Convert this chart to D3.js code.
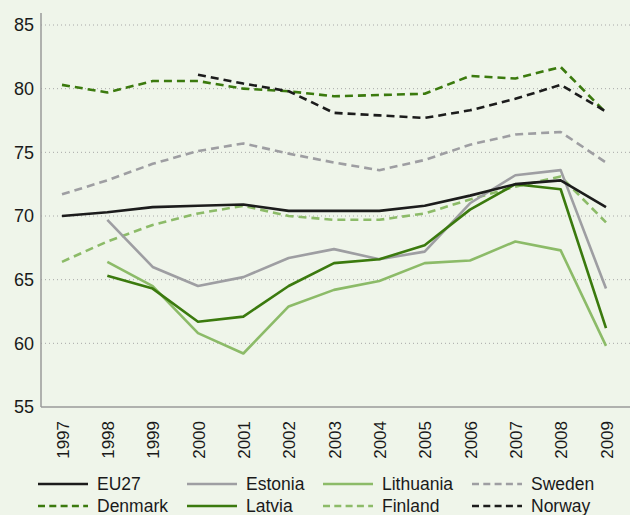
<!DOCTYPE html>
<html>
<head>
<meta charset="utf-8">
<script src="https://cdn.jsdelivr.net/npm/d3@7"></script>
<style>
  html, body { margin: 0; padding: 0; background: #eff5ea; }
  svg { display: block; }
  text { font-family: "Liberation Sans", Arial, sans-serif; fill: #1a1a1a; }
</style>
</head>
<body>
<svg id="chart" width="630" height="515"></svg>
<script>
// Years on the x axis
const years = [1997, 1998, 1999, 2000, 2001, 2002, 2003, 2004, 2005, 2006, 2007, 2008, 2009];
const yTicks = [55, 60, 65, 70, 75, 80, 85];

// Employment rates (%) per country, null where no data
const eu27      = [70.0, 70.3, 70.7, 70.8, 70.9, 70.4, 70.4, 70.4, 70.8, 71.6, 72.5, 72.8, 70.7];
const estonia   = [null, 69.7, 66.0, 64.5, 65.2, 66.7, 67.4, 66.6, 67.2, 71.0, 73.2, 73.6, 64.3];
const lithuania = [null, 66.4, 64.5, 60.8, 59.2, 62.9, 64.2, 64.9, 66.3, 66.5, 68.0, 67.3, 59.8];
const sweden    = [71.7, 72.8, 74.1, 75.1, 75.7, 74.9, 74.2, 73.6, 74.4, 75.6, 76.4, 76.6, 74.2];
const denmark   = [80.3, 79.7, 80.6, 80.6, 80.0, 79.8, 79.4, 79.5, 79.6, 81.0, 80.8, 81.7, 78.1];
const latvia    = [null, 65.3, 64.3, 61.7, 62.1, 64.5, 66.3, 66.6, 67.7, 70.5, 72.5, 72.1, 61.2];
const finland   = [66.4, 68.0, 69.3, 70.2, 70.8, 70.0, 69.7, 69.7, 70.2, 71.3, 72.3, 73.1, 69.5];
const norway    = [null, null, null, 81.1, 80.4, 79.8, 78.1, 77.9, 77.7, 78.3, 79.2, 80.3, 78.2];

const seriesNames = ["EU27", "Estonia", "Lithuania", "Sweden", "Denmark", "Latvia", "Finland", "Norway"];
const seriesValues = [eu27, estonia, lithuania, sweden, denmark, latvia, finland, norway];

const black = "#1c1c1c", gray = "#9e9ea2", darkGreen = "#3b7a0e", lightGreen = "#8cbb68";
const styles = {
  EU27:      { color: black,      dash: null },
  Estonia:   { color: gray,       dash: null },
  Lithuania: { color: lightGreen, dash: null },
  Sweden:    { color: gray,       dash: "8,5" },
  Denmark:   { color: darkGreen,  dash: "8,5" },
  Latvia:    { color: darkGreen,  dash: null },
  Finland:   { color: lightGreen, dash: "8,5" },
  Norway:    { color: black,      dash: "8,5" }
};

const svg = d3.select("#chart");
const plotLeft = 41, plotRight = 630, plotTop = 25, plotBottom = 407;

const x = d3.scalePoint().domain(years).range([62, 606]);
const y = d3.scaleLinear().domain([55, 85]).range([plotBottom, plotTop]);

// Dotted horizontal gridlines
svg.append("g").selectAll("line")
  .data(yTicks.filter(t => t > 55))
  .join("line")
  .attr("x1", plotLeft).attr("x2", plotRight)
  .attr("y1", d => y(d)).attr("y2", d => y(d))
  .attr("stroke", "#a8a8a8").attr("stroke-width", 1)
  .attr("stroke-dasharray", "1,3");

// Y axis
const yAxis = svg.append("g").attr("transform", `translate(${plotLeft},0)`)
  .call(d3.axisLeft(y).tickValues(yTicks).tickSize(0).tickPadding(7));
yAxis.select(".domain").remove();
yAxis.selectAll("text").attr("font-size", 18).attr("fill", "#1a1a1a")
  .style("font-family", "'Liberation Sans', Arial, sans-serif");
svg.append("line").attr("x1", plotLeft).attr("x2", plotLeft).attr("y1", 13).attr("y2", plotBottom)
  .attr("stroke", "#9a9a9a").attr("stroke-width", 1.5);

// X axis
const xAxis = svg.append("g").attr("transform", `translate(0,${plotBottom})`)
  .call(d3.axisBottom(x).tickSize(0).tickPadding(0));
xAxis.select(".domain").remove();
xAxis.selectAll("text")
  .attr("font-size", 17).attr("fill", "#1a1a1a")
  .style("font-family", "'Liberation Sans', Arial, sans-serif")
  .attr("text-anchor", "end")
  .attr("transform", "rotate(-90)")
  .attr("x", -14).attr("y", 0).attr("dy", "0.36em");
svg.append("line").attr("x1", plotLeft).attr("x2", plotRight).attr("y1", plotBottom).attr("y2", plotBottom)
  .attr("stroke", "#9a9a9a").attr("stroke-width", 1.5);

// Series lines
const line = d3.line()
  .defined(d => d.v !== null)
  .x(d => x(d.year))
  .y(d => y(d.v));

const drawOrder = ["Sweden", "Finland", "Estonia", "Lithuania", "Latvia", "EU27", "Denmark", "Norway"];
drawOrder.forEach(name => {
  const vals = seriesValues[seriesNames.indexOf(name)];
  const pts = years.map((yr, i) => ({ year: yr, v: vals[i] }));
  const st = styles[name];
  svg.append("path")
    .datum(pts)
    .attr("d", line)
    .attr("fill", "none")
    .attr("stroke", st.color)
    .attr("stroke-width", 2.6)
    .attr("stroke-linejoin", "round")
    .attr("stroke-dasharray", st.dash);
});

// Legend: two rows, four columns
const legendCols = [38, 187, 323, 472];
const legendRows = [484, 506];
seriesNames.forEach((name, i) => {
  const cx = legendCols[i % 4], cy = legendRows[Math.floor(i / 4)];
  const st = styles[name];
  svg.append("line")
    .attr("x1", cx).attr("x2", cx + 50).attr("y1", cy).attr("y2", cy)
    .attr("stroke", st.color).attr("stroke-width", 2.6)
    .attr("stroke-dasharray", st.dash ? "7,4.3" : null);
  svg.append("text")
    .attr("x", cx + 59).attr("y", cy).attr("dy", "0.36em")
    .attr("font-size", 17.5)
    .text(name);
});
</script>
</body>
</html>
